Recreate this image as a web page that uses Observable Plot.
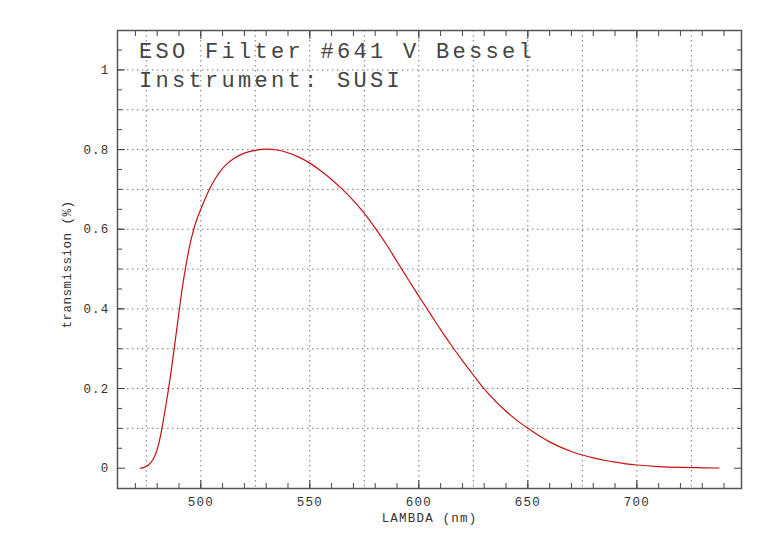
<!DOCTYPE html>
<html>
<head>
<meta charset="utf-8">
<script src="https://cdn.jsdelivr.net/npm/d3@7"></script>
<script src="https://cdn.jsdelivr.net/npm/@observablehq/plot@0.6"></script>
<style>
  html, body { margin: 0; padding: 0; background: #fff; }
</style>
</head>
<body>
<div id="chart"></div>
<script>
// Data (wavelength in nm, transmission)
const lambda = [472.3, 474, 476, 478, 479, 480, 481, 482, 483, 484, 486, 488, 490, 492, 494, 496, 498, 500, 503, 506, 509, 512, 515, 520, 525, 530, 535, 540, 545, 550, 555, 560, 565, 570, 575, 580, 585, 590, 595, 600, 605, 610, 615, 620, 625, 630, 635, 640, 645, 650, 655, 660, 665, 670, 675, 680, 685, 690, 695, 700, 710, 720, 730, 737.7];
const transmission = [0.000, 0.002, 0.008, 0.021, 0.032, 0.047, 0.068, 0.095, 0.126, 0.158, 0.228, 0.308, 0.392, 0.470, 0.534, 0.584, 0.622, 0.650, 0.689, 0.721, 0.746, 0.764, 0.777, 0.791, 0.798, 0.801, 0.799, 0.792, 0.781, 0.766, 0.747, 0.725, 0.700, 0.672, 0.640, 0.603, 0.563, 0.519, 0.475, 0.432, 0.390, 0.348, 0.308, 0.270, 0.234, 0.199, 0.169, 0.143, 0.120, 0.100, 0.082, 0.066, 0.053, 0.042, 0.033, 0.026, 0.020, 0.015, 0.011, 0.008, 0.004, 0.002, 0.001, 0.0005];

const xMajorTicks = [500, 550, 600, 650, 700];
const xMinorTicks = d3.range(470, 741, 10);
const xGrid = [475, 500, 525, 550, 575, 600, 625, 650, 675, 700, 725];
const yMajorTicks = [0, 0.2, 0.4, 0.6, 0.8, 1];
const yMinorTicks = d3.range(1, 22).map(i => i * 0.05);
const yGrid = d3.range(1, 11).map(i => i / 10);

const titleLines = ["ESO Filter #641 V Bessel", "Instrument: SUSI"];
const xLabel = "LAMBDA (nm)";
const yLabel = "transmission (%)";

const data = lambda.map((l, i) => ({lambda: l, t: transmission[i]}));

const axisColor = "#444";
const textColor = "#333";
const font = "Liberation Mono";

const plot = Plot.plot({
  width: 782,
  height: 542,
  marginLeft: 117,
  marginRight: 41,
  marginTop: 30,
  marginBottom: 54,
  x: {domain: [461.8, 748]},
  y: {domain: [-0.051, 1.099]},
  style: {fontFamily: font, fontSize: "12.5px", color: textColor, background: "#fff", letterSpacing: "1.2px"},
  marks: [
    Plot.ruleX(xGrid, {stroke: "#777", strokeWidth: 1, strokeDasharray: "1.5,3.5"}),
    Plot.ruleY(yGrid, {stroke: "#777", strokeWidth: 1, strokeDasharray: "1.5,3.5"}),
    // minor ticks (inward) on all four sides
    Plot.axisX(xMinorTicks, {anchor: "bottom", tickSize: -5, tickFormat: () => "", label: null, stroke: axisColor}),
    Plot.axisX(xMinorTicks, {anchor: "top", tickSize: -5, tickFormat: () => "", label: null, stroke: axisColor}),
    Plot.axisY(yMinorTicks, {anchor: "left", tickSize: -5, tickFormat: () => "", label: null, stroke: axisColor}),
    Plot.axisY(yMinorTicks, {anchor: "right", tickSize: -5, tickFormat: () => "", label: null, stroke: axisColor}),
    // major ticks (inward)
    Plot.axisX(xMajorTicks, {anchor: "bottom", tickSize: -8, tickFormat: () => "", label: null, stroke: axisColor}),
    Plot.axisX(xMajorTicks, {anchor: "top", tickSize: -8, tickFormat: () => "", label: null, stroke: axisColor}),
    Plot.axisY(yMajorTicks, {anchor: "left", tickSize: -8, tickFormat: () => "", label: null, stroke: axisColor}),
    Plot.axisY(yMajorTicks, {anchor: "right", tickSize: -8, tickFormat: () => "", label: null, stroke: axisColor}),
    // tick labels
    Plot.axisX(xMajorTicks, {anchor: "bottom", tickSize: 0, tickPadding: 9, label: null, fill: textColor, fontSize: 12.5}),
    Plot.axisY(yMajorTicks, {anchor: "left", tickSize: 0, tickPadding: 8, label: null, fill: textColor, fontSize: 12.5, tickFormat: d => String(d)}),
    Plot.frame({stroke: "#555", strokeWidth: 1.5}),
    Plot.line(data, {x: "lambda", y: "t", stroke: "#c81010", strokeWidth: 1.2, curve: "monotone-x"}),
    // titles inside the frame
    Plot.text([titleLines[0]], {frameAnchor: "top-left", textAnchor: "start", lineAnchor: "top", dx: 21.5, dy: 12, fontSize: 22, fill: "#444"}),
    Plot.text([titleLines[1]], {frameAnchor: "top-left", textAnchor: "start", lineAnchor: "top", dx: 21.5, dy: 41, fontSize: 22, fill: "#444"}),
    // axis labels
    Plot.text([xLabel], {frameAnchor: "bottom", textAnchor: "middle", lineAnchor: "top", dy: 25, fontSize: 12.5, fill: textColor}),
    Plot.text([yLabel], {frameAnchor: "left", textAnchor: "middle", rotate: -90, dx: -51, dy: 5, fontSize: 12.5, fill: textColor})
  ]
});
const svg = d3.select(plot);
svg.selectAll("text")
  .filter(function() { return titleLines.includes(this.textContent); })
  .style("letter-spacing", "3.3px");
svg.selectAll("text")
  .filter(function() { return this.textContent === yLabel; })
  .style("letter-spacing", "0.5px");
document.getElementById("chart").appendChild(plot);
</script>
</body>
</html>
